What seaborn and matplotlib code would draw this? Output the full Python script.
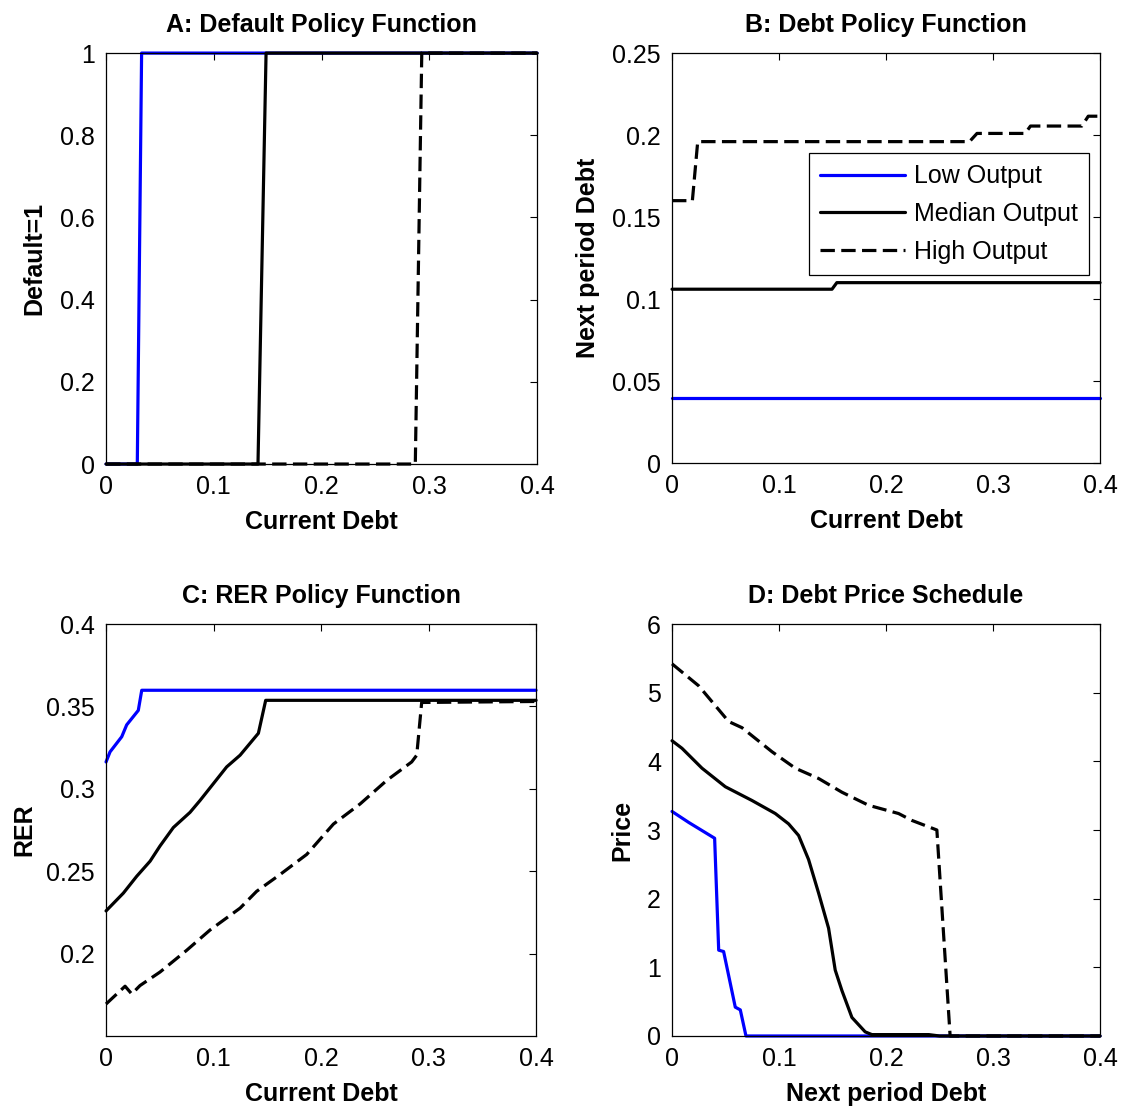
import matplotlib
matplotlib.use("Agg")
import matplotlib.pyplot as plt
import seaborn as sns

# Panel A: default policy (0/1) against current debt
a_low_x = [0, 0.029, 0.033, 0.4]
a_low_y = [0, 0, 1, 1]
a_med_x = [0, 0.141, 0.1485, 0.4]
a_med_y = [0, 0, 1, 1]
a_high_x = [0, 0.287, 0.293, 0.4]
a_high_y = [0, 0, 1, 1]

# Panel B: next period debt
b_low_x = [0, 0.4]
b_low_y = [0.0395, 0.0395]
b_med_x = [0, 0.1495, 0.154, 0.4]
b_med_y = [0.106, 0.106, 0.110, 0.110]
b_high_x = [0, 0.019, 0.024, 0.278, 0.285, 0.330, 0.335, 0.383, 0.389, 0.4]
b_high_y = [0.160, 0.160, 0.196, 0.196, 0.201, 0.201, 0.2055, 0.2055, 0.2115, 0.2115]

# Panel C: RER policy
c_low_x = [0, 0.0037, 0.0146, 0.0192, 0.030, 0.0332, 0.4]
c_low_y = [0.3163, 0.3224, 0.3316, 0.3388, 0.3476, 0.3598, 0.3598]
c_med_x = [0, 0.0161, 0.0285, 0.041, 0.0502, 0.0626, 0.0781, 0.0874, 0.0998,
           0.1122, 0.1247, 0.1417, 0.1485, 0.4]
c_med_y = [0.2259, 0.2367, 0.2469, 0.2561, 0.2653, 0.2765, 0.2857, 0.2929, 0.3031,
           0.3133, 0.3204, 0.3337, 0.3537, 0.3537]
c_high_x = [0, 0.0177, 0.0239, 0.0316, 0.0502, 0.075, 0.0967, 0.1247, 0.1401, 0.1619,
            0.1867, 0.2115, 0.2363, 0.2611, 0.2843, 0.2890, 0.2936, 0.4]
c_high_y = [0.1694, 0.1802, 0.1755, 0.1806, 0.1888, 0.2020, 0.2143, 0.2276, 0.2378, 0.2480,
            0.2602, 0.2786, 0.2908, 0.3051, 0.3163, 0.3204, 0.3524, 0.3530]

# Panel D: debt price schedule
d_low_x = [0, 0.0156, 0.0398, 0.0436, 0.0482, 0.0591, 0.0638, 0.0691, 0.4]
d_low_y = [3.27, 3.11, 2.88, 1.25, 1.23, 0.42, 0.38, 0.0, 0.0]
d_med_x = [0, 0.0093, 0.028, 0.0498, 0.0747, 0.0965, 0.1089, 0.1183, 0.1276, 0.137,
           0.1463, 0.1525, 0.1588, 0.1681, 0.1805, 0.1868, 0.24, 0.25, 0.4]
d_med_y = [4.30, 4.19, 3.90, 3.63, 3.43, 3.24, 3.09, 2.92, 2.57, 2.08,
           1.57, 0.96, 0.66, 0.27, 0.06, 0.02, 0.02, 0.0, 0.0]
d_high_x = [0, 0.0249, 0.0529, 0.0654, 0.0934, 0.1152, 0.137, 0.1588, 0.1837, 0.2117,
            0.2241, 0.2475, 0.2599, 0.4]
d_high_y = [5.42, 5.10, 4.58, 4.49, 4.14, 3.90, 3.75, 3.55, 3.36, 3.24,
            3.14, 3.00, 0.0, 0.0]

series_labels = ["Low Output", "Median Output", "High Output"]
titles = ["A: Default Policy Function", "B: Debt Policy Function",
          "C: RER Policy Function", "D: Debt Price Schedule"]
xlabels = ["Current Debt", "Current Debt", "Current Debt", "Next period Debt"]
ylabels = ["Default=1", "Next period Debt", "RER", "Price"]
xticks = [0, 0.1, 0.2, 0.3, 0.4]
yticks = [[0, 0.2, 0.4, 0.6, 0.8, 1],
          [0, 0.05, 0.1, 0.15, 0.2, 0.25],
          [0.2, 0.25, 0.3, 0.35, 0.4],
          [0, 1, 2, 3, 4, 5, 6]]
ylims = [(0, 1), (0, 0.25), (0.15, 0.4), (0, 6)]
yticklabels = [["0", "0.2", "0.4", "0.6", "0.8", "1"],
               ["0", "0.05", "0.1", "0.15", "0.2", "0.25"],
               ["0.2", "0.25", "0.3", "0.35", "0.4"],
               ["0", "1", "2", "3", "4", "5", "6"]]

sns.set_style("white")
plt.rcParams['font.family'] = ['Liberation Sans', 'DejaVu Sans']
plt.rcParams['text.color'] = 'black'
plt.rcParams['axes.labelcolor'] = 'black'

fig = plt.figure(figsize=(11.21, 11.08), dpi=100)
positions = [[0.0946, 0.5812, 0.3845, 0.3709],
             [0.5995, 0.5821, 0.3818, 0.3700],
             [0.0946, 0.0650, 0.3836, 0.3718],
             [0.5995, 0.0650, 0.3818, 0.3718]]
ylabelpads = [10, 9, 7, 9]

panels = [
    [(a_low_x, a_low_y), (a_med_x, a_med_y), (a_high_x, a_high_y)],
    [(b_low_x, b_low_y), (b_med_x, b_med_y), (b_high_x, b_high_y)],
    [(c_low_x, c_low_y), (c_med_x, c_med_y), (c_high_x, c_high_y)],
    [(d_low_x, d_low_y), (d_med_x, d_med_y), (d_high_x, d_high_y)],
]
colors = ["#0000ff", "black", "black"]
styles = ["-", "-", (0, (4.5, 2.0))]
fs = 18

for i, pos in enumerate(positions):
    ax = fig.add_axes(pos)
    for (x, y), c, ls, lab in zip(panels[i], colors, styles, series_labels):
        sns.lineplot(x=x, y=y, ax=ax, color=c, linestyle=ls, linewidth=2.3,
                     estimator=None, sort=False, label=lab)
    for line in ax.lines:
        line.set_clip_on(False)
    if ax.get_legend() is not None:
        ax.get_legend().remove()
    ax.set_xlim(0, 0.4)
    ax.set_ylim(*ylims[i])
    ax.set_xticks(xticks)
    ax.set_xticklabels(["0", "0.1", "0.2", "0.3", "0.4"])
    ax.set_yticks(yticks[i])
    ax.set_yticklabels(yticklabels[i])
    ax.tick_params(axis='both', which='both', direction='in', length=5, width=0.8,
                   top=True, right=True, labelsize=fs, pad=8, colors='black')
    for sp in ax.spines.values():
        sp.set_linewidth(0.9)
        sp.set_color('black')
    ax.set_title(titles[i], fontsize=fs, fontweight='bold', pad=15)
    ax.set_xlabel(xlabels[i], fontsize=fs, fontweight='bold', labelpad=8)
    ax.set_ylabel(ylabels[i], fontsize=fs, fontweight='bold', labelpad=ylabelpads[i])
    if i == 1:
        leg = ax.legend(loc='upper right', bbox_to_anchor=(0.974, 0.756),
                        fontsize=fs, frameon=True, fancybox=False, framealpha=1,
                        edgecolor='black', handlelength=3.4, handletextpad=0.35,
                        labelspacing=0.55, borderpad=0.45, borderaxespad=0)
        leg.get_frame().set_linewidth(0.9)

fig.savefig("out.png", dpi=100)
